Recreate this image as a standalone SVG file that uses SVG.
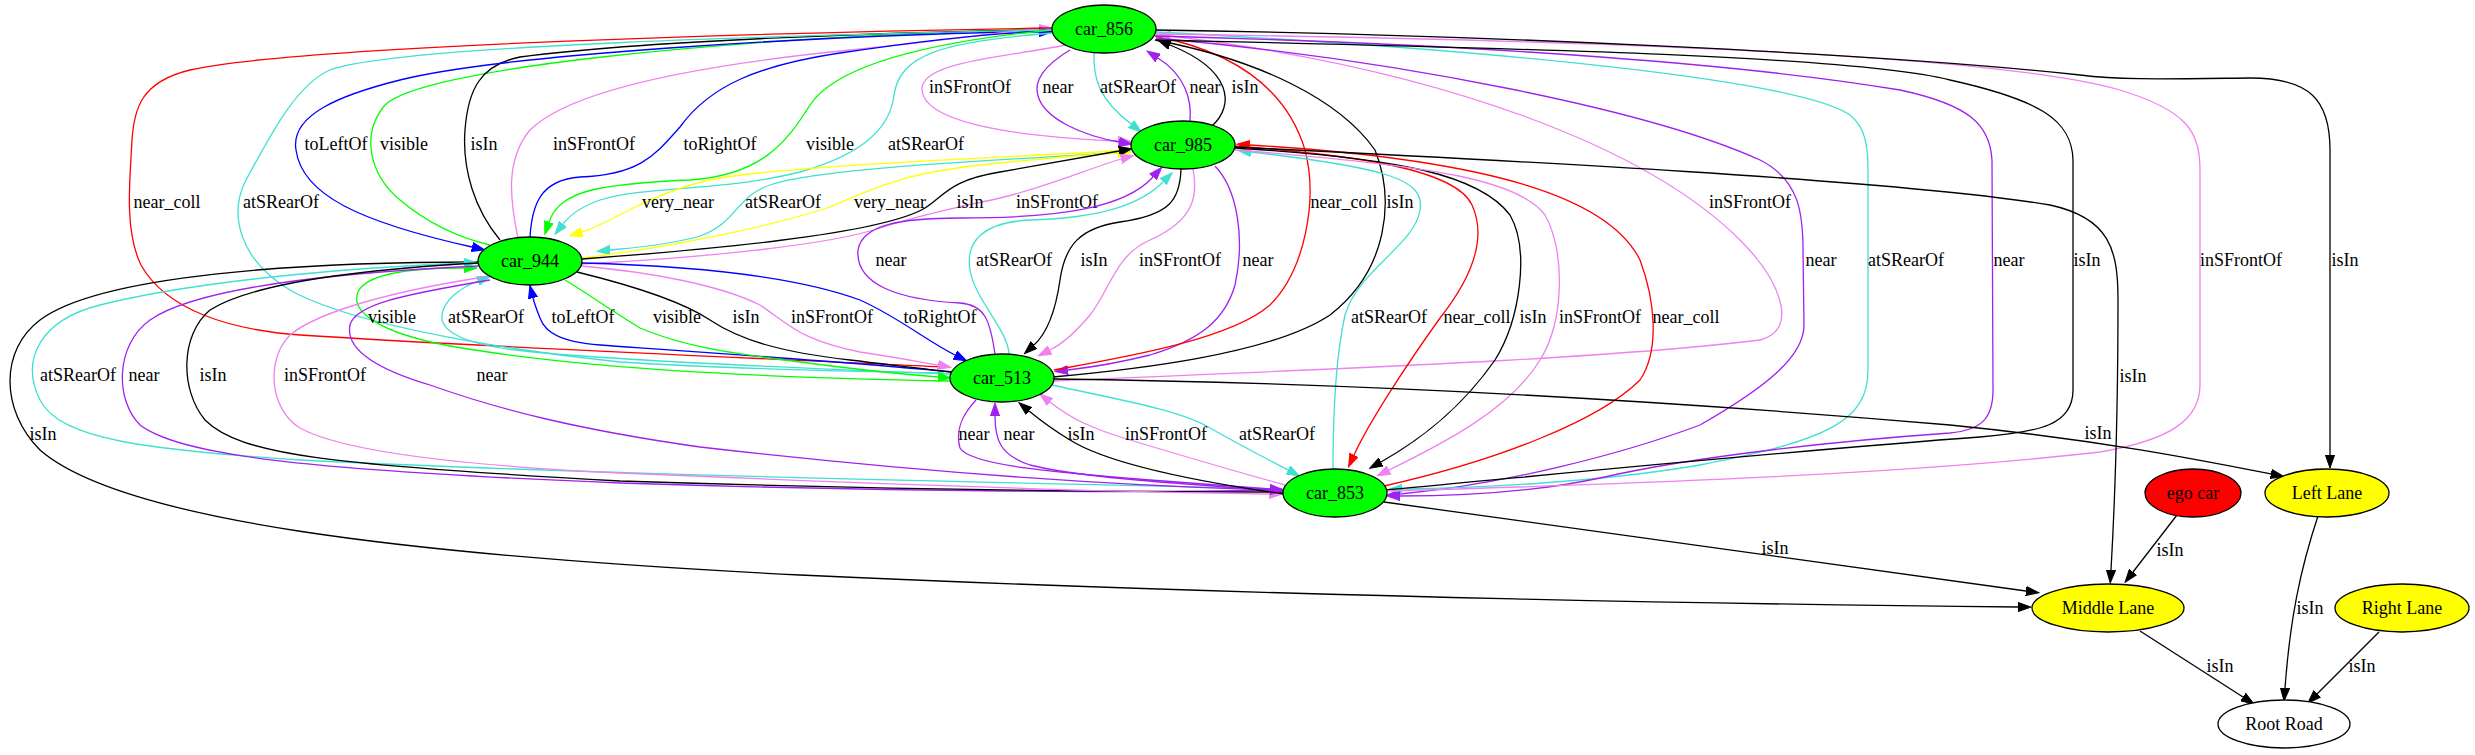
<svg xmlns="http://www.w3.org/2000/svg" width="2475" height="755" viewBox="0 0 2475 755">
<style>
.e{fill:none;stroke-width:1.3}
.k{stroke:#000}.r{stroke:#f00}.b{stroke:#00f}.g{stroke:#0f0}.t{stroke:#40e0d0}.v{stroke:#ee82ee}.p{stroke:#a020f0}.y{stroke:#ff0}
.mk{marker-end:url(#mk)}.mr{marker-end:url(#mr)}.mb{marker-end:url(#mb)}.mg{marker-end:url(#mg)}.mt{marker-end:url(#mt)}.mv{marker-end:url(#mv)}.mp{marker-end:url(#mp)}.my{marker-end:url(#my)}
text{font-family:"Liberation Serif","Times New Roman",serif;font-size:18px;fill:#000;text-anchor:middle}
ellipse{stroke:#000;stroke-width:1.3}
.car{fill:#0f0}.lane{fill:#ff0}
</style>
<defs>
<marker id="mk" viewBox="0 -5 14 10" refX="0" refY="0" markerWidth="14" markerHeight="10" markerUnits="userSpaceOnUse" orient="auto"><path d="M0,-4.6L13,0L0,4.6z" fill="#000" stroke="#000" stroke-width="1"/></marker>
<marker id="mr" viewBox="0 -5 14 10" refX="0" refY="0" markerWidth="14" markerHeight="10" markerUnits="userSpaceOnUse" orient="auto"><path d="M0,-4.6L13,0L0,4.6z" fill="#f00" stroke="#f00" stroke-width="1"/></marker>
<marker id="mb" viewBox="0 -5 14 10" refX="0" refY="0" markerWidth="14" markerHeight="10" markerUnits="userSpaceOnUse" orient="auto"><path d="M0,-4.6L13,0L0,4.6z" fill="#00f" stroke="#00f" stroke-width="1"/></marker>
<marker id="mg" viewBox="0 -5 14 10" refX="0" refY="0" markerWidth="14" markerHeight="10" markerUnits="userSpaceOnUse" orient="auto"><path d="M0,-4.6L13,0L0,4.6z" fill="#0f0" stroke="#0f0" stroke-width="1"/></marker>
<marker id="mt" viewBox="0 -5 14 10" refX="0" refY="0" markerWidth="14" markerHeight="10" markerUnits="userSpaceOnUse" orient="auto"><path d="M0,-4.6L13,0L0,4.6z" fill="#40e0d0" stroke="#40e0d0" stroke-width="1"/></marker>
<marker id="mv" viewBox="0 -5 14 10" refX="0" refY="0" markerWidth="14" markerHeight="10" markerUnits="userSpaceOnUse" orient="auto"><path d="M0,-4.6L13,0L0,4.6z" fill="#ee82ee" stroke="#ee82ee" stroke-width="1"/></marker>
<marker id="mp" viewBox="0 -5 14 10" refX="0" refY="0" markerWidth="14" markerHeight="10" markerUnits="userSpaceOnUse" orient="auto"><path d="M0,-4.6L13,0L0,4.6z" fill="#a020f0" stroke="#a020f0" stroke-width="1"/></marker>
<marker id="my" viewBox="0 -5 14 10" refX="0" refY="0" markerWidth="14" markerHeight="10" markerUnits="userSpaceOnUse" orient="auto"><path d="M0,-4.6L13,0L0,4.6z" fill="#ff0" stroke="#ff0" stroke-width="1"/></marker>
</defs>
<rect width="2475" height="755" fill="#fff"/>
<g id="connectors">
<!-- car_856 <-> car_985 -->
<path class="e v mv" d="M1066,45 C1000,58 920,62 922,90 C924,120 1000,136 1118,141"/>
<path class="e p mp" d="M1070,50 C1045,65 1033,80 1038,96 C1045,120 1085,136 1119,142"/>
<path class="e t mt" d="M1094,53 C1093,80 1100,100 1131,124"/>
<path class="e p mp" d="M1190,121 C1192,100 1185,75 1158,58"/>
<path class="e k mk" d="M1212,126 C1235,105 1232,70 1170,45"/>
<text x="970" y="93">inSFrontOf</text>
<text x="1058" y="93">near</text>
<text x="1138" y="93">atSRearOf</text>
<text x="1205" y="93">near</text>
<text x="1245" y="93">isIn</text>
<!-- car_856 <-> car_944 -->
<path class="e g" d="M1052,29 C700,38 420,70 385,105 C360,135 370,175 400,200 C430,225 460,238 490,245"/>
<path class="e k" d="M500,240 C475,210 462,170 465,130 C468,90 480,65 520,57 C650,40 900,32 1052,30"/>
<path class="e b mb" d="M1052,31 C800,36 500,55 400,80 C340,95 290,115 296,150 C302,195 360,222 472,247"/>
<path class="e v mv" d="M518,238 C510,200 505,160 530,130 C570,90 700,65 850,50 C950,40 1000,32 1039,29"/>
<path class="e b mb" d="M530,237 C532,205 540,180 580,177 C640,175 655,155 680,127 C710,85 760,65 840,53 C920,41 990,33 1039,32"/>
<path class="e g mg" d="M1052,30 C950,40 840,60 810,105 C785,145 760,175 690,180 C600,184 560,190 549,222"/>
<path class="e t mt" d="M1052,33 C940,42 900,55 894,95 C890,130 860,155 800,172 C720,192 650,185 600,200 C580,207 570,215 563,224"/>
<text x="336" y="150">toLeftOf</text>
<text x="404" y="150">visible</text>
<text x="484" y="150">isIn</text>
<text x="594" y="150">inSFrontOf</text>
<text x="720" y="150">toRightOf</text>
<text x="830" y="150">visible</text>
<text x="926" y="150">atSRearOf</text>
<!-- long left arcs car_856 <-> car_513 -->
<path class="e r" d="M1052,28 C800,32 300,45 190,70 C140,82 134,110 132,140 C130,180 124,230 141,265 C166,310 230,330 300,335 C500,348 800,360 945,367"/>
<path class="e t" d="M1052,30 C800,35 400,45 330,70 C295,85 268,140 246,180 C228,215 240,260 290,290 C360,330 550,355 620,362 C750,370 880,372 944,373"/>
<text x="167" y="208">near_coll</text>
<text x="281" y="208">atSRearOf</text>
<!-- car_944 <-> car_985 -->
<path class="e y my" d="M1131,150 C1000,158 800,165 720,178 C690,183 660,195 635,207 C610,220 595,228 582,232"/>
<path class="e t mt" d="M1131,152 C1000,160 820,168 770,185 C735,197 738,222 700,236 C670,245 630,248 610,250"/>
<path class="e y my" d="M582,258 C650,250 760,230 830,207 C870,190 900,172 1000,163 C1060,157 1100,154 1118,153"/>
<path class="e k mk" d="M582,259 C700,250 880,235 925,208 C945,195 950,180 1000,172 C1050,163 1090,156 1119,151"/>
<path class="e v mv" d="M581,264 C700,258 830,245 880,228 C930,212 970,205 1000,198 C1050,186 1090,168 1121,159"/>
<text x="678" y="208">very_near</text>
<text x="783" y="208">atSRearOf</text>
<text x="890" y="208">very_near</text>
<text x="970" y="208">isIn</text>
<text x="1057" y="208">inSFrontOf</text>
<!-- car_985 <-> car_513 -->
<path class="e p mp" d="M995,354 C990,320 985,305 960,303 C900,300 855,285 858,250 C862,225 900,218 960,218 C1060,218 1125,208 1153,177"/>
<path class="e t mt" d="M1009,354 C1008,330 975,300 970,270 C965,240 985,222 1030,220 C1100,218 1140,205 1163,182"/>
<path class="e k mk" d="M1181,169 C1180,200 1170,215 1120,222 C1080,228 1065,245 1060,280 C1055,315 1045,335 1034,345"/>
<path class="e v mv" d="M1193,169 C1198,195 1195,220 1150,240 C1115,255 1110,290 1090,315 C1075,333 1060,345 1050,350"/>
<path class="e p mp" d="M1215,166 C1238,190 1245,240 1235,285 C1225,320 1200,340 1150,355 C1110,365 1085,368 1068,370"/>
<text x="891" y="266">near</text>
<text x="1014" y="266">atSRearOf</text>
<text x="1094" y="266">isIn</text>
<text x="1180" y="266">inSFrontOf</text>
<text x="1258" y="266">near</text>
<!-- right arcs car_856 <-> car_513 -->
<path class="e r" d="M1155,36 C1250,55 1290,100 1305,150 C1318,200 1305,270 1270,305 C1230,340 1120,358 1054,370"/>
<path class="e k" d="M1155,40 C1260,60 1340,100 1375,150 C1395,200 1388,270 1330,315 C1270,355 1130,370 1053,377"/>
<path class="e v mv" d="M1054,381 C1300,370 1600,360 1760,340 C1800,330 1780,280 1740,240 C1650,150 1450,70 1170,36"/>
<text x="1344" y="208">near_coll</text>
<text x="1400" y="208">isIn</text>
<text x="1750" y="208">inSFrontOf</text>
<!-- car_856 <-> car_853, Left Lane -->
<path class="e p mp" d="M1156,38 C1400,60 1650,110 1760,160 C1800,180 1803,215 1803,250 L1804,325 C1804,355 1770,385 1700,425 C1620,455 1500,485 1400,494"/>
<path class="e t mt" d="M1156,32 C1500,50 1800,80 1850,115 C1865,127 1868,145 1868,170 L1868,370 C1868,420 1830,440 1700,465 C1600,482 1480,488 1402,489"/>
<path class="e p mp" d="M1156,36 C1500,45 1750,65 1900,90 C1970,105 1990,125 1992,160 L1993,390 C1993,420 1980,430 1950,433 C1850,440 1700,455 1600,478 C1530,493 1450,496 1400,496"/>
<path class="e k" d="M1156,40 C1500,48 1850,55 1950,80 C2040,100 2072,120 2073,160 L2073,390 C2073,425 2040,432 1980,437 C1800,450 1600,470 1386,490"/>
<path class="e v" d="M1156,34 C1600,40 2000,55 2120,90 C2185,110 2200,130 2200,170 L2200,385 C2200,420 2170,440 2100,452 C1900,475 1600,485 1386,491"/>
<path class="e k mk" d="M1156,30 C1500,35 1900,55 2080,75 C2120,80 2160,79 2250,78 C2310,78 2330,100 2330,150 L2330,455"/>
<text x="1821" y="266">near</text>
<text x="1906" y="266">atSRearOf</text>
<text x="2009" y="266">near</text>
<text x="2087" y="266">isIn</text>
<text x="2241" y="266">inSFrontOf</text>
<text x="2345" y="266">isIn</text>
<!-- car_944 <-> car_513 -->
<path class="e g mg" d="M950,381 C800,378 600,372 450,346 C380,333 350,312 358,292 C366,274 410,268 464,268"/>
<path class="e t mt" d="M950,374 C800,368 600,360 515,350 C460,343 440,330 442,315 C444,300 460,288 478,281"/>
<path class="e b mb" d="M953,372 C850,362 700,352 600,345 C560,342 545,332 540,318 C536,308 534,302 533,298"/>
<path class="e g mg" d="M565,280 C590,295 610,310 640,328 C680,345 720,352 800,362 C860,370 900,374 938,377"/>
<path class="e k" d="M577,272 C630,285 680,300 710,320 C740,340 780,352 850,360 C900,366 930,370 951,372"/>
<path class="e v mv" d="M581,266 C650,272 720,285 760,305 C790,325 800,340 860,352 C900,358 920,362 938,365"/>
<path class="e b mb" d="M582,263 C700,266 800,278 860,300 C900,318 925,340 955,355"/>
<text x="392" y="323">visible</text>
<text x="486" y="323">atSRearOf</text>
<text x="583" y="323">toLeftOf</text>
<text x="677" y="323">visible</text>
<text x="746" y="323">isIn</text>
<text x="832" y="323">inSFrontOf</text>
<text x="940" y="323">toRightOf</text>
<!-- car_985 <-> car_853 -->
<path class="e t mt" d="M1333,469 C1333,420 1335,360 1345,315 C1358,270 1415,245 1420,210 C1425,180 1390,168 1251,152"/>
<path class="e r mr" d="M1234,146 C1350,155 1455,168 1472,205 C1488,240 1470,280 1440,318 C1410,360 1370,420 1354,455"/>
<path class="e k mk" d="M1235,148 C1400,158 1480,175 1510,215 C1530,250 1520,320 1495,360 C1460,410 1420,440 1381,462"/>
<path class="e v mv" d="M1235,150 C1430,165 1520,180 1545,215 C1565,250 1565,320 1540,360 C1510,410 1440,445 1389,470"/>
<path class="e r mr" d="M1384,486 C1500,460 1600,420 1640,380 C1660,350 1655,300 1640,260 C1610,200 1500,160 1250,145"/>
<text x="1389" y="323">atSRearOf</text>
<text x="1477" y="323">near_coll</text>
<text x="1533" y="323">isIn</text>
<text x="1600" y="323">inSFrontOf</text>
<text x="1686" y="323">near_coll</text>
<!-- car_944 <-> car_853, Middle Lane -->
<path class="e k mk" d="M478,262 C300,262 100,275 40,320 C0,350 0,410 40,450 C120,520 400,555 800,575 C1300,598 1800,605 2018,607"/>
<path class="e t mt" d="M1283,489 C1000,482 600,475 300,460 C150,450 60,440 40,400 C20,360 40,320 100,305 C200,280 350,268 464,263"/>
<path class="e p mp" d="M478,266 C350,272 200,285 150,320 C115,345 115,400 140,425 C180,455 300,470 620,483 C900,492 1150,493 1270,490"/>
<path class="e k" d="M478,263 C350,270 250,285 210,310 C180,335 180,390 205,420 C240,455 330,465 620,481 C900,490 1150,492 1283,492"/>
<path class="e v mv" d="M484,277 C400,290 320,310 290,335 C265,360 270,410 300,428 C340,450 450,465 620,473 C900,485 1100,492 1269,494"/>
<path class="e p mp" d="M490,280 C400,295 355,305 350,325 C345,350 380,370 430,385 C500,410 580,430 700,447 C900,470 1100,485 1270,490"/>
<text x="78" y="381">atSRearOf</text>
<text x="144" y="381">near</text>
<text x="213" y="381">isIn</text>
<text x="325" y="381">inSFrontOf</text>
<text x="492" y="381">near</text>
<text x="43" y="440">isIn</text>
<!-- car_513 <-> car_853 -->
<path class="e p mp" d="M976,400 C962,415 955,430 960,448 C970,465 1050,472 1150,480 C1200,484 1240,487 1270,489"/>
<path class="e p mp" d="M1283,491 C1200,485 1080,478 1030,465 C1000,455 995,440 995,416"/>
<path class="e k mk" d="M1284,494 C1200,482 1110,465 1070,440 C1050,428 1040,420 1029,411"/>
<path class="e v mv" d="M1285,485 C1230,470 1180,455 1130,440 C1090,428 1070,418 1050,402"/>
<path class="e t mt" d="M1052,385 C1120,400 1180,410 1210,428 C1240,445 1265,458 1288,470"/>
<text x="974" y="440">near</text>
<text x="1019" y="440">near</text>
<text x="1081" y="440">isIn</text>
<text x="1166" y="440">inSFrontOf</text>
<text x="1277" y="440">atSRearOf</text>
<!-- lanes -->
<path class="e k mk" d="M1054,379 C1300,382 1600,395 1950,425 C2100,440 2200,460 2271,474"/>
<text x="2098" y="439">isIn</text>
<path class="e k mk" d="M1235,147 C1500,160 1900,180 2050,205 C2110,218 2118,250 2118,300 C2118,400 2115,500 2111,570"/>
<text x="2133" y="382">isIn</text>
<path class="e k mk" d="M1384,502 L2026,591"/>
<text x="1775" y="554">isIn</text>
<path class="e k mk" d="M2177,515 L2133,572"/>
<text x="2170" y="556">isIn</text>
<path class="e k mk" d="M2318,516 C2300,570 2290,620 2285,688"/>
<text x="2310" y="614">isIn</text>
<path class="e k mk" d="M2140,631 L2243,697"/>
<text x="2220" y="672">isIn</text>
<path class="e k mk" d="M2379,632 L2317,694"/>
<text x="2362" y="672">isIn</text>
</g>
<g id="car_856"><ellipse class="car" cx="1104" cy="29" rx="52" ry="24"/><text x="1104" y="35">car_856</text></g>
<g id="car_985"><ellipse class="car" cx="1183" cy="145" rx="52" ry="24"/><text x="1183" y="151">car_985</text></g>
<g id="car_944"><ellipse class="car" cx="530" cy="261" rx="52" ry="24"/><text x="530" y="267">car_944</text></g>
<g id="car_513"><ellipse class="car" cx="1002" cy="378" rx="52" ry="24"/><text x="1002" y="384">car_513</text></g>
<g id="car_853"><ellipse class="car" cx="1335" cy="493" rx="52" ry="24"/><text x="1335" y="499">car_853</text></g>
<g id="ego_car"><ellipse cx="2193" cy="493" rx="48" ry="24" fill="#f00"/><text x="2193" y="499">ego car</text></g>
<g id="left_lane"><ellipse class="lane" cx="2327" cy="493" rx="62" ry="24"/><text x="2327" y="499">Left Lane</text></g>
<g id="middle_lane"><ellipse class="lane" cx="2108" cy="608" rx="76" ry="24"/><text x="2108" y="614">Middle Lane</text></g>
<g id="right_lane"><ellipse class="lane" cx="2402" cy="608" rx="67" ry="24"/><text x="2402" y="614">Right Lane</text></g>
<g id="root_road"><ellipse cx="2284" cy="724" rx="66" ry="24" fill="#fff"/><text x="2284" y="730">Root Road</text></g>
</svg>
